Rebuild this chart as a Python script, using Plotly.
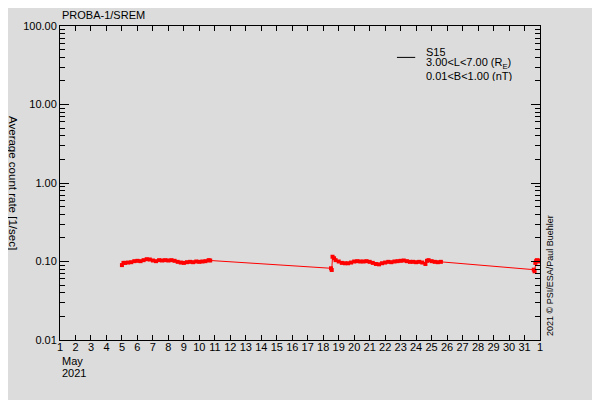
import plotly.graph_objects as go

# ---- data (day of May 2021, value in counts/sec) ----
seg1_day = [5.0, 5.1, 5.2, 5.4, 5.6, 5.8, 6.0, 6.2, 6.4, 6.6, 6.8, 7.0, 7.2, 7.4, 7.6,
            7.8, 8.0, 8.2, 8.4, 8.6, 8.8, 9.0, 9.2, 9.4, 9.6, 9.8, 10.0, 10.2, 10.4,
            10.6, 10.7]
seg1_val = [0.090, 0.096, 0.096, 0.097, 0.098, 0.101, 0.102, 0.101, 0.104, 0.107, 0.106,
            0.103, 0.101, 0.104, 0.103, 0.104, 0.103, 0.104, 0.102, 0.099, 0.097, 0.096,
            0.098, 0.099, 0.098, 0.100, 0.099, 0.100, 0.101, 0.104, 0.103]

seg2_day = [18.5, 18.55, 18.6, 18.7, 18.8, 19.0, 19.2, 19.4, 19.6, 19.8, 20.0, 20.2, 20.4,
            20.6, 20.8, 21.0, 21.2, 21.4, 21.6, 21.8, 22.0, 22.2, 22.4, 22.6, 22.8,
            23.0, 23.2, 23.4, 23.6, 23.8, 24.0, 24.2, 24.4, 24.6, 24.7, 24.8, 25.0,
            25.2, 25.4, 25.6]
seg2_val = [0.082, 0.078, 0.115, 0.110, 0.104, 0.100, 0.096, 0.095, 0.095, 0.097, 0.100,
            0.101, 0.100, 0.100, 0.101, 0.099, 0.096, 0.093, 0.092, 0.095, 0.097, 0.099,
            0.098, 0.100, 0.101, 0.102, 0.103, 0.101, 0.099, 0.099, 0.098, 0.099, 0.097,
            0.093, 0.102, 0.104, 0.101, 0.099, 0.098, 0.099]

seg3_day = [31.6, 31.65, 31.7, 31.75, 31.8, 31.9, 32.0]
seg3_val = [0.0787, 0.075, 0.096, 0.101, 0.104, 0.100, 0.103]

x_ticks = list(range(1, 33))
x_labels = [str(d) for d in range(1, 32)] + ["1"]
y_ticks = [0.01, 0.1, 1, 10, 100]
y_labels = ["0.01", "0.10", "1.00", "10.00", "100.00"]
y_minor = [m * d for d in [0.01, 0.1, 1, 10] for m in range(2, 10)]

legend_lines = ["S15", "3.00<L<7.00 (R<sub>E</sub>)", "0.01<B<1.00 (nT)"]

days = seg1_day + seg2_day + seg3_day
vals = seg1_val + seg2_val + seg3_val

BG = "#dcdcdc"
FONT = "Liberation Sans"

fig = go.Figure()
fig.add_trace(go.Scatter(
    x=days, y=vals, mode="lines+markers",
    line=dict(color="red", width=1),
    marker=dict(color="red", size=4, symbol="square", line=dict(width=0)),
    showlegend=False,
))

fig.update_layout(
    width=600, height=400,
    margin=dict(l=52, r=68, t=12, b=68),
    paper_bgcolor=BG, plot_bgcolor=BG,
    font=dict(family=FONT, size=11, color="black"),
    showlegend=False,
)
fig.update_xaxes(
    range=[1, 32], tickvals=x_ticks, ticktext=x_labels,
    showgrid=False, zeroline=False,
    showline=True, linecolor="black", linewidth=1, mirror="ticks",
    ticks="inside", ticklen=5, tickcolor="black",
    tickfont=dict(family=FONT, size=11), ticklabelstandoff=-3,
)
fig.update_yaxes(
    type="log", range=[-2, 2], tickvals=y_ticks, ticktext=y_labels,
    showgrid=False, zeroline=False,
    showline=True, linecolor="black", linewidth=1, mirror="ticks",
    ticks="inside", ticklen=9, tickcolor="black",
    tickfont=dict(family=FONT, size=11),
    minor=dict(ticks="inside", ticklen=5, tickcolor="black", tickvals=y_minor,
               showgrid=False),
)

annotations = [
    dict(text="PROBA-1/SREM", xref="paper", yref="paper", x=0, y=1.0, yshift=3,
         xanchor="left", yanchor="bottom", showarrow=False, font=dict(size=11)),
    dict(text="Average count rate [1/sec]", xref="paper", yref="paper", x=-0.098, y=0.5,
         xanchor="center", yanchor="middle", textangle=90, showarrow=False,
         font=dict(size=11.5)),
    dict(text="May", xref="paper", yref="paper", x=0, y=0, yshift=-13,
         xanchor="left", yanchor="top", showarrow=False, font=dict(size=11)),
    dict(text="2021", xref="paper", yref="paper", x=0, y=0, yshift=-25,
         xanchor="left", yanchor="top", showarrow=False, font=dict(size=11)),
    dict(text="2021 © PSI/ESA/Paul Buehler", xref="paper", yref="paper", x=1.0, xshift=10,
         y=0.005, yanchor="bottom", xanchor="center", textangle=-90, showarrow=False,
         font=dict(size=9)),
]
legend_y = [0.9187, 0.8812, 0.8437]
for t, yy in zip(legend_lines, legend_y):
    annotations.append(dict(text=t, xref="paper", yref="paper", x=0.761,
                            y=yy, xanchor="left", yanchor="middle",
                            align="left", showarrow=False, font=dict(size=11),
                            height=11, borderpad=0, valign="middle"))
fig.update_layout(annotations=annotations)
fig.add_shape(type="line", xref="paper", yref="paper", x0=0.702, x1=0.74, y0=0.9, y1=0.9,
              line=dict(color="black", width=1))

fig.write_html("out.html")
